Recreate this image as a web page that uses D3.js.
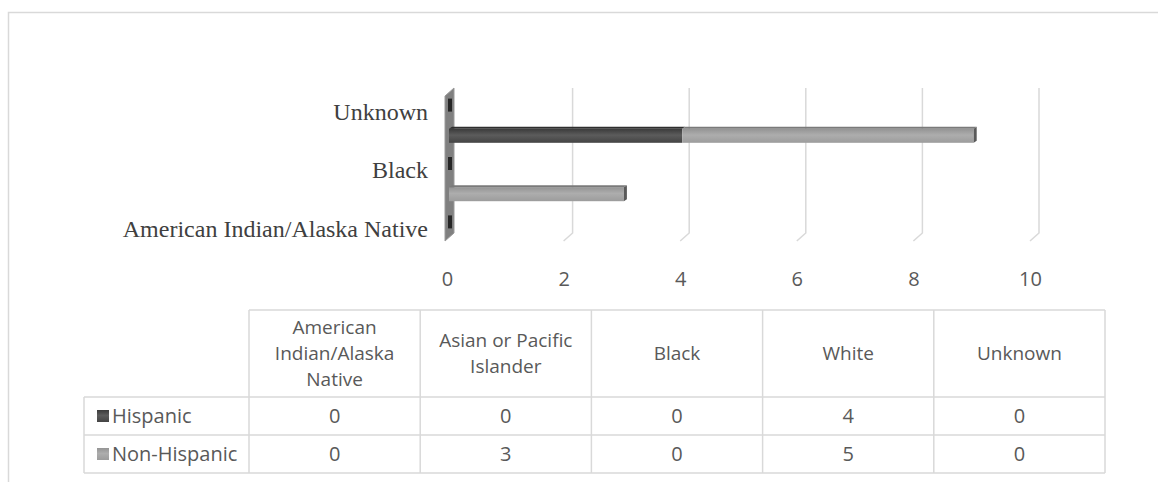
<!DOCTYPE html>
<html>
<head>
<meta charset="utf-8">
<script src="https://cdn.jsdelivr.net/npm/d3@7"></script>
<style>
  body { margin: 0; background: #fff; }
  svg { display: block; }
  .cat { font-family: "Liberation Serif", "Times New Roman", serif; font-size: 24px; fill: #404040; }
  .tick text, .tbl { font-family: "Open Sans", sans-serif; font-size: 20px; fill: #595959; }
  .tbl.head { font-size: 19px; }
</style>
</head>
<body>
<svg id="chart"></svg>
<script>
'use strict';

var categories = ['American Indian/Alaska Native', 'Asian or Pacific Islander', 'Black', 'White', 'Unknown'];
var seriesNames = ['Hispanic', 'Non-Hispanic'];
var hispanic = [0, 0, 0, 4, 0];
var nonHispanic = [0, 3, 0, 5, 0];
var xTicks = [0, 2, 4, 6, 8, 10];
var shownCats = ['Unknown', 'Black', 'American Indian/Alaska Native'];

var width = 1158, height = 482;
var depth = {'dx': 9, 'dy': -8};
var colors = {
  'Hispanic': ['#3a3a3a', '#5c5c5c', '#444444', '#2e2e2e'],
  'Non-Hispanic': ['#949494', '#adadad', '#9c9c9c', '#7a7a7a']
};

var svg = d3.select('#chart').attr('width', width).attr('height', height);

// outer frame (runs off the right and bottom edge)
svg.append('rect')
  .attr('x', 8.5).attr('y', 12.5)
  .attr('width', 1200).attr('height', 500)
  .attr('fill', 'none').attr('stroke', '#d9d9d9').attr('stroke-width', 1.5);

var defs = svg.append('defs');
seriesNames.forEach(function (s, i) {
  var g = defs.append('linearGradient').attr('id', 'grad' + i)
    .attr('x1', 0).attr('x2', 0).attr('y1', 0).attr('y2', 1);
  g.append('stop').attr('offset', '0%').attr('stop-color', colors[s][0]);
  g.append('stop').attr('offset', '45%').attr('stop-color', colors[s][1]);
  g.append('stop').attr('offset', '100%').attr('stop-color', colors[s][2]);
});

// front scale (labels), back wall is offset by depth
var x = d3.scaleLinear().domain([0, 10]).range([447, 1030]);
var y = d3.scaleBand().domain(categories.slice().reverse()).range([97, 243]);
var yTop = 88 - depth.dy, yBot = 241;

// gridlines on the back wall + floor diagonal
var grid = svg.append('g');
xTicks.slice(1).forEach(function (t) {
  grid.append('path')
    .attr('d', 'M' + (x(t) + depth.dx) + ',' + (yTop + depth.dy) +
      'V' + (yBot + depth.dy) + 'L' + x(t) + ',' + yBot)
    .attr('fill', 'none').attr('stroke', '#d9d9d9').attr('stroke-width', 1.5);
});

// category wall
var wx = x(0) - 2;
svg.append('path')
  .attr('d', 'M' + wx + ',' + yTop + 'L' + (wx + depth.dx) + ',' + (yTop + depth.dy) +
    'V' + (yBot + depth.dy) + 'L' + wx + ',' + yBot + 'Z')
  .attr('fill', '#808080').attr('stroke', '#9a9a9a').attr('stroke-width', 1);

// x axis labels
var xAxis = d3.axisBottom(x).tickValues(xTicks).tickSize(0).tickPadding(0);
var ax = svg.append('g').attr('transform', 'translate(0,' + 272 + ')').call(xAxis);
ax.select('.domain').remove();
ax.selectAll('text').attr('dy', '0.71em').attr('font-size', null).attr('font-family', null);

// category labels
svg.selectAll('text.cat').data(shownCats).enter()
  .append('text').classed('cat', true)
  .attr('x', 428)
  .attr('y', function (d) { return y(d) + y.bandwidth() / 2; })
  .attr('dy', '0.35em')
  .attr('text-anchor', 'end')
  .text(function (d) { return d; });

// stacked bars
var stack = d3.stack().keys(seriesNames);
var rows = categories.map(function (c, i) {
  return {'cat': c, 'Hispanic': hispanic[i], 'Non-Hispanic': nonHispanic[i]};
});
var layers = stack(rows);
var barH = 14, bx = 2, bd = 3;

// zero-length bars show as small stubs on the wall
categories.forEach(function (c, i) {
  var total = hispanic[i] + nonHispanic[i];
  var yc = y(c) + y.bandwidth() / 2;
  if (total === 0) {
    svg.append('rect')
      .attr('x', x(0) + 1).attr('y', yc - 13)
      .attr('width', 4).attr('height', 13)
      .attr('fill', '#262626');
  }
});

layers.forEach(function (layer, li) {
  var s = seriesNames[li];
  var g = svg.append('g');
  layer.forEach(function (d, i) {
    if (d[1] - d[0] <= 0) return;
    var c = categories[i];
    var yy = y(c) + y.bandwidth() / 2 - 12;
    var x0 = x(d[0]) + bx, x1 = x(d[1]) + bx;
    g.append('rect')
      .attr('x', x0).attr('y', yy)
      .attr('width', x1 - x0).attr('height', barH)
      .attr('fill', 'url(#grad' + li + ')');
    g.append('path')
      .attr('d', 'M' + x0 + ',' + yy + 'L' + (x0 + bd) + ',' + (yy - 2) +
        'H' + (x1 + bd) + 'L' + x1 + ',' + yy + 'Z')
      .attr('fill', colors[s][3]);
    var isLast = d[1] === hispanic[i] + nonHispanic[i];
    if (isLast) {
      g.append('path')
        .attr('d', 'M' + x1 + ',' + yy + 'L' + (x1 + bd) + ',' + (yy - 2) +
          'V' + (yy + barH - 2) + 'L' + x1 + ',' + (yy + barH) + 'Z')
        .attr('fill', '#5a5a5a');
    }
  });
});

// data table
var colX = d3.scaleBand().domain(categories).range([249, 1105]);
var tblLeft = 84, headTop = 310, headBot = 397, rowH = 38;
var values = [hispanic, nonHispanic];
var tbl = svg.append('g');
var line = function (x1, y1, x2, y2) {
  tbl.append('line').attr('x1', x1).attr('y1', y1).attr('x2', x2).attr('y2', y2)
    .attr('stroke', '#d9d9d9').attr('stroke-width', 1.5);
};
line(249, headTop, 1105, headTop);
line(tblLeft, headBot, 1105, headBot);
seriesNames.forEach(function (s, r) { line(tblLeft, headBot + rowH * (r + 1), 1105, headBot + rowH * (r + 1)); });
line(tblLeft, headBot, tblLeft, headBot + rowH * 2);
categories.forEach(function (c) { line(colX(c), headTop, colX(c), headBot + rowH * 2); });
line(1105, headTop, 1105, headBot + rowH * 2);

// header cells, wrapped
categories.forEach(function (c) {
  var t = tbl.append('text').classed('tbl head', true)
    .attr('text-anchor', 'middle');
  var words = c.split(' '), lines = [], cur = '';
  words.forEach(function (w) {
    var test = cur ? cur + ' ' + w : w;
    t.text(test);
    if (cur && t.node().getComputedTextLength() > colX.bandwidth() - 14) {
      lines.push(cur); cur = w;
    } else cur = test;
  });
  lines.push(cur);
  t.text(null);
  var lh = 26, cy = (headTop + headBot) / 2 - (lines.length - 1) * lh / 2;
  lines.forEach(function (l, k) {
    t.append('tspan').attr('x', colX(c) + colX.bandwidth() / 2)
      .attr('y', cy + k * lh).attr('dy', '0.35em').text(l);
  });
});

// body rows
seriesNames.forEach(function (s, r) {
  var cy = headBot + rowH * r + rowH / 2;
  tbl.append('rect').attr('x', 97).attr('y', cy - 6).attr('width', 12).attr('height', 12)
    .attr('fill', 'url(#grad' + r + ')');
  tbl.append('text').classed('tbl', true).attr('x', 112).attr('y', cy).attr('dy', '0.35em')
    .text(s);
  categories.forEach(function (c, i) {
    tbl.append('text').classed('tbl', true)
      .attr('x', colX(c) + colX.bandwidth() / 2).attr('y', cy).attr('dy', '0.35em')
      .attr('text-anchor', 'middle').text(values[r][i]);
  });
});
</script>
</body>
</html>
